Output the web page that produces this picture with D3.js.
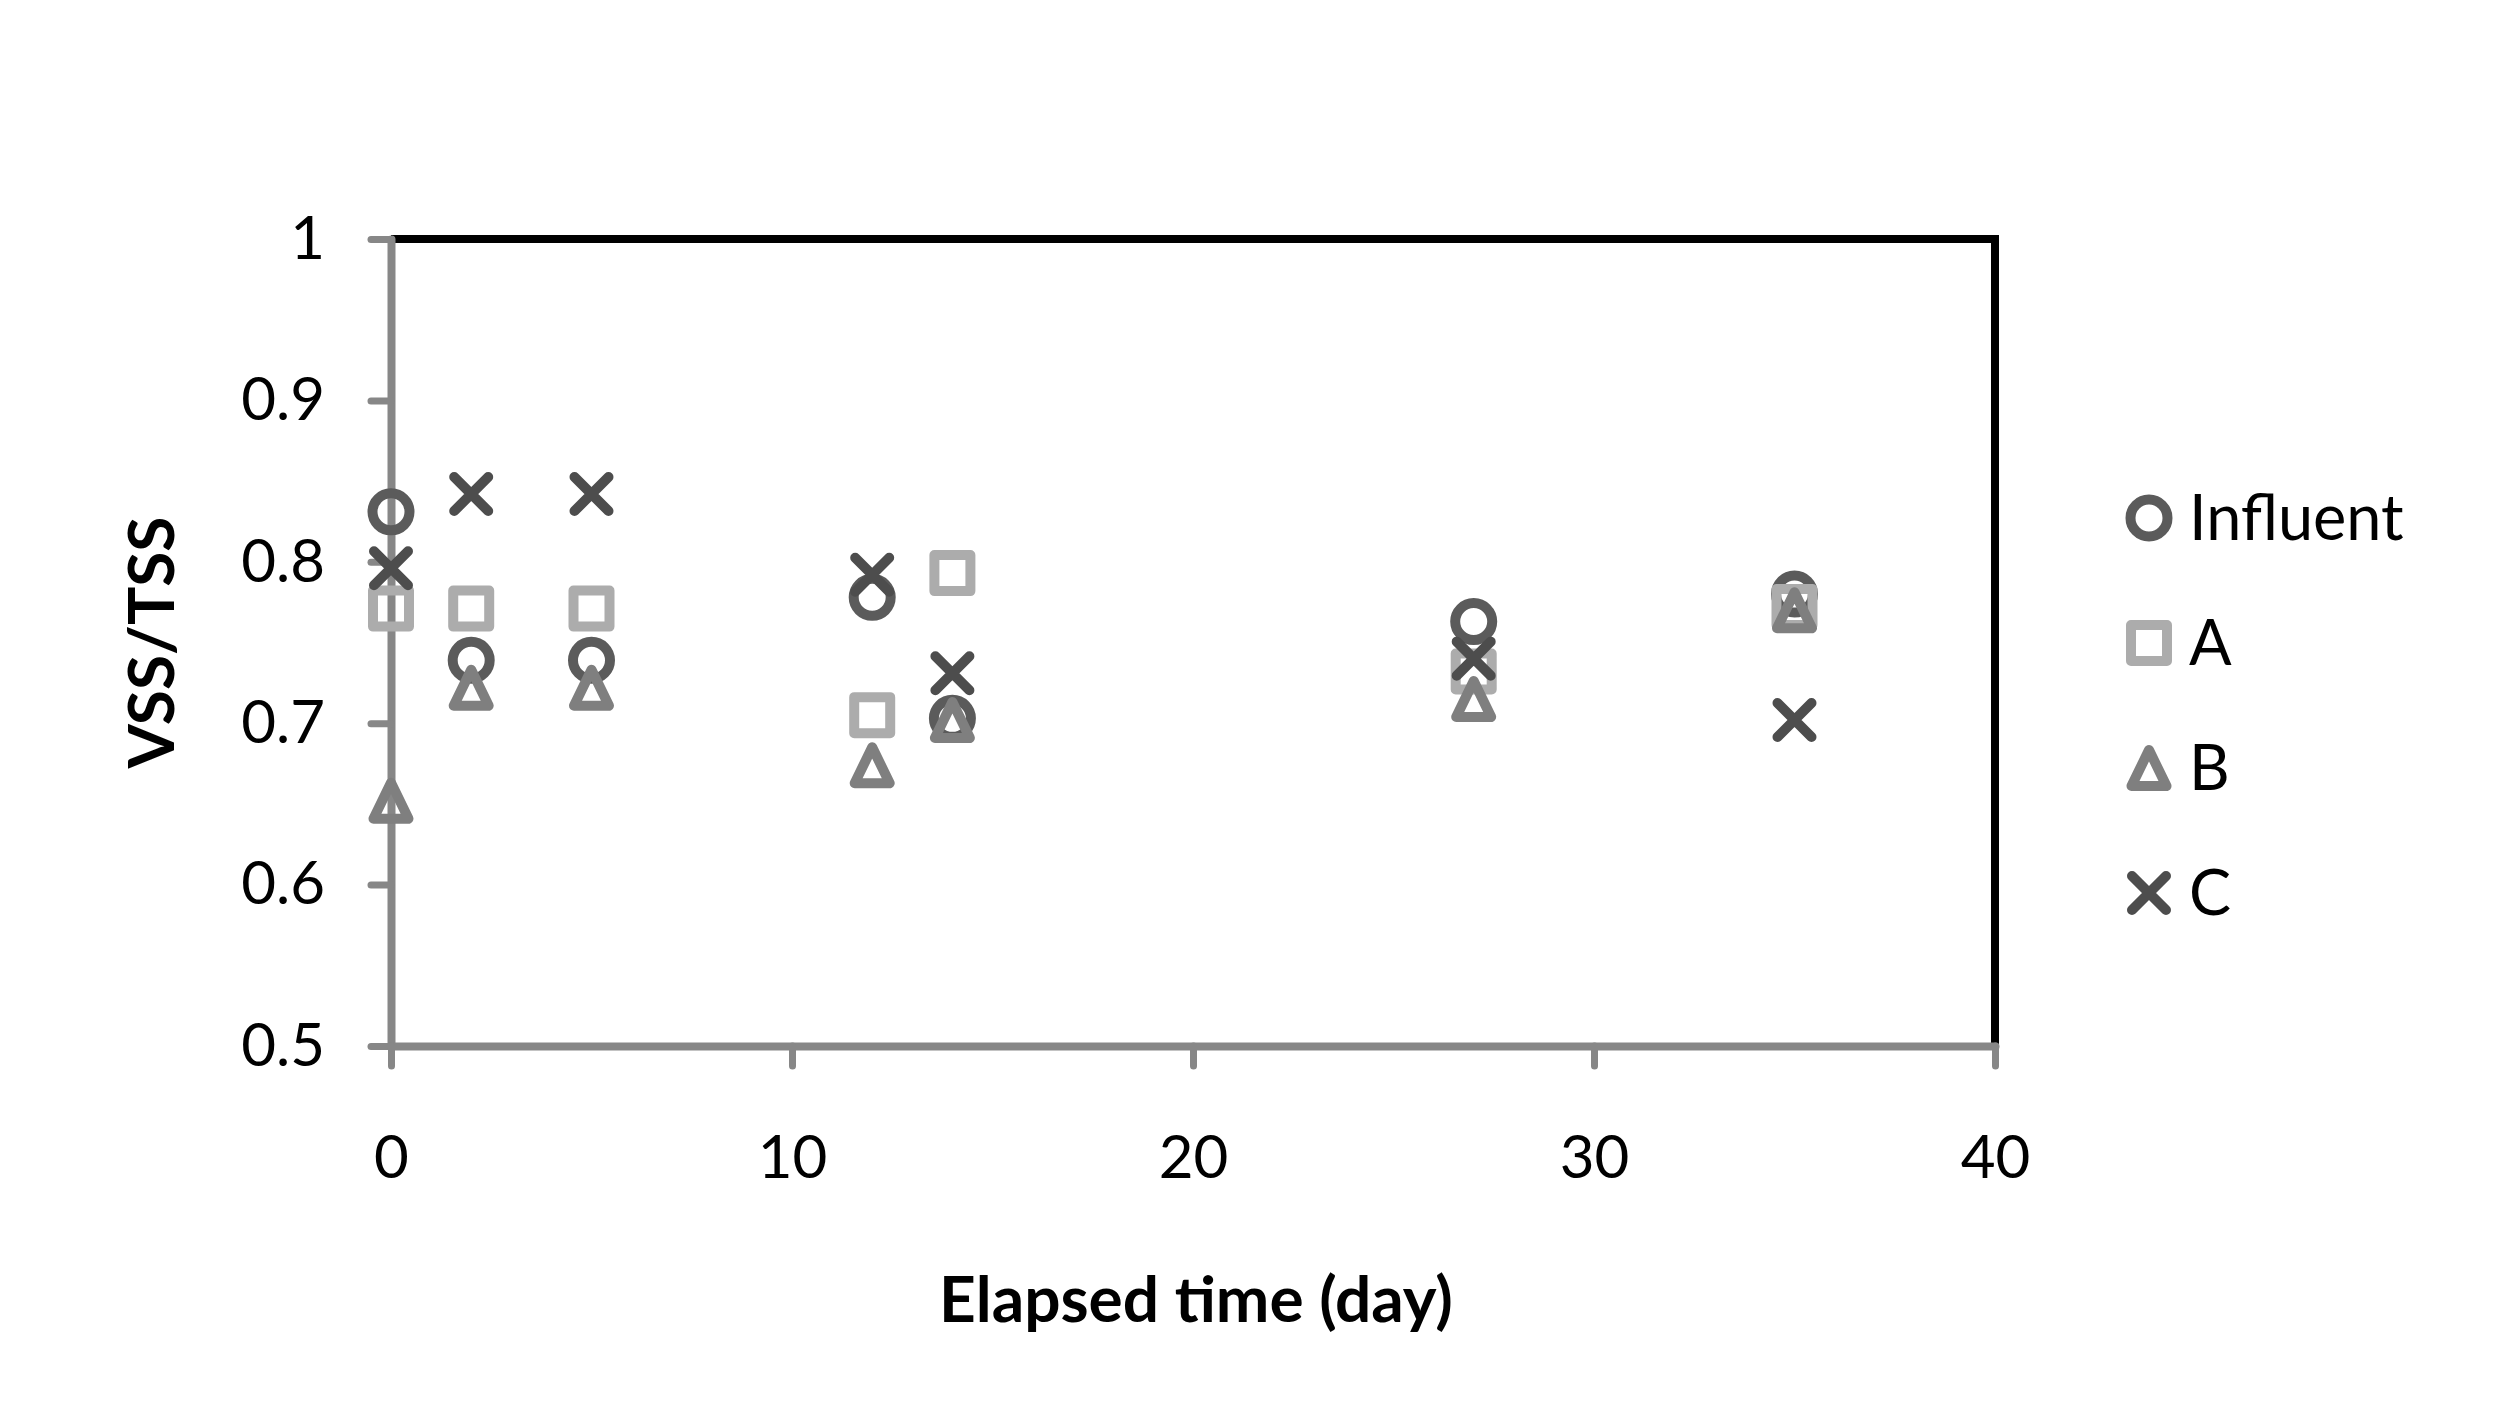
<!DOCTYPE html>
<html>
<head>
<meta charset="utf-8">
<script src="https://cdn.jsdelivr.net/npm/d3@7"></script>
<style>
  html, body { margin: 0; padding: 0; background: #fff; }
  svg { display: block; }
  text { font-family: Lato, "Open Sans", sans-serif; fill: #000; }
</style>
</head>
<body>
<svg id="chart" width="2500" height="1411"></svg>
<script>
// ---- data ----
const days = [0, 2, 5, 12, 14, 27, 35];
const seriesNames = ["Influent", "A", "B", "C"];
const influent = [0.831, 0.739, 0.739, 0.778, 0.703, 0.763, 0.780];
const seriesA  = [0.771, 0.771, 0.771, 0.705, 0.793, 0.732, 0.772];
const seriesB  = [0.652, 0.722, 0.722, 0.674, 0.702, 0.715, 0.770];
const seriesC  = [0.796, 0.842, 0.842, 0.792, 0.731, 0.740, 0.702];
const xTicks = [0, 10, 20, 30, 40];
const yTicks = [0.5, 0.6, 0.7, 0.8, 0.9, 1];
const xTitle = "Elapsed time (day)";
const yTitle = "VSS/TSS";

// ---- layout ----
const svg = d3.select("#chart");
const L = 391, R = 1995, T = 239, B = 1046;
const x = d3.scaleLinear().domain([0, 40]).range([L, R]);
const y = d3.scaleLinear().domain([0.5, 1]).range([B, T]);

const axisGray = "#878787";
const styles = {
  "Influent": { shape: "circle",   color: "#5b5b5b" },
  "A":        { shape: "square",   color: "#acacac" },
  "B":        { shape: "triangle", color: "#7f7f7f" },
  "C":        { shape: "cross",    color: "#4d4d4d" }
};
const values = { "Influent": influent, "A": seriesA, "B": seriesB, "C": seriesC };

// plot frame (top & right in black)
svg.append("path")
  .attr("d", `M${L},${T} H${R} V${B}`)
  .attr("fill", "none").attr("stroke", "#000").attr("stroke-width", 8)
  .attr("stroke-linejoin", "miter");

// axes
const fmtY = d => (d === 1 ? "1" : d3.format(".1f")(d));
const yAxis = svg.append("g").attr("transform", `translate(${L},0)`)
  .call(d3.axisLeft(y).tickValues(yTicks).tickFormat(fmtY).tickSizeInner(20).tickSizeOuter(0).tickPadding(46));
const xAxis = svg.append("g").attr("transform", `translate(0,${B})`)
  .call(d3.axisBottom(x).tickValues(xTicks).tickSizeInner(20).tickSizeOuter(0).tickPadding(69));

[yAxis, xAxis].forEach(g => {
  g.select(".domain").attr("stroke", axisGray).attr("stroke-width", 8).attr("stroke-linecap", "round");
  g.selectAll(".tick line").attr("stroke", axisGray).attr("stroke-width", 7).attr("stroke-linecap", "round");
  g.selectAll(".tick text").attr("font-size", 60).attr("font-family", "Lato, sans-serif").attr("fill", "#000");
});

// marker drawing
function drawMarker(g, shape, color) {
  const sw = 10;
  if (shape === "circle") {
    g.append("circle").attr("r", 18.5).attr("fill", "none").attr("stroke", color).attr("stroke-width", sw);
  } else if (shape === "square") {
    g.append("rect").attr("x", -18).attr("y", -18).attr("width", 36).attr("height", 36)
      .attr("fill", "none").attr("stroke", color).attr("stroke-width", sw).attr("stroke-linejoin", "round");
  } else if (shape === "triangle") {
    g.append("path").attr("d", "M0,-18 L17.5,18 L-17.5,18 Z")
      .attr("fill", "none").attr("stroke", color).attr("stroke-width", sw).attr("stroke-linejoin", "round");
  } else {
    g.append("path").attr("d", "M-17,-17 L17,17 M17,-17 L-17,17")
      .attr("fill", "none").attr("stroke", color).attr("stroke-width", sw).attr("stroke-linecap", "round");
  }
}

// points
seriesNames.forEach(name => {
  const st = styles[name];
  const grp = svg.append("g").attr("class", "series-" + name);
  values[name].forEach((v, i) => {
    const g = grp.append("g").attr("transform", `translate(${x(days[i])},${y(v)})`);
    drawMarker(g, st.shape, st.color);
  });
});

// legend
const legend = svg.append("g").attr("transform", "translate(2149,518)");
seriesNames.forEach((name, i) => {
  const g = legend.append("g").attr("transform", `translate(0,${i * 125})`);
  drawMarker(g, styles[name].shape, styles[name].color);
  g.append("text").attr("x", 40).attr("y", 22).attr("font-size", 63).text(name);
});

// axis titles
svg.append("text").attr("x", (L + R) / 2 + 3).attr("y", 1322).attr("text-anchor", "middle")
  .attr("font-size", 64).attr("font-weight", "bold").text(xTitle);
svg.append("text").attr("transform", `translate(174,${(T + B) / 2}) rotate(-90)`).attr("text-anchor", "middle")
  .attr("font-size", 64).attr("font-weight", "bold").text(yTitle);
</script>
</body>
</html>
